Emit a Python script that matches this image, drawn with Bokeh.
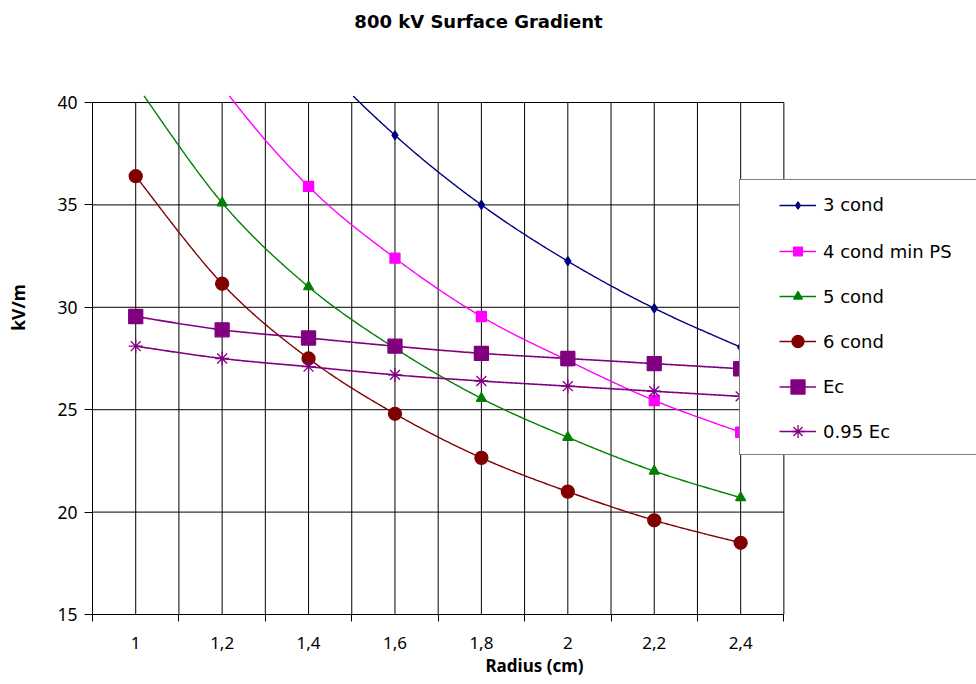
import math
from bokeh.plotting import figure
from bokeh.models import Range1d, FixedTicker, Legend, LegendItem, Label, BoxAnnotation
from bokeh.embed import file_html
from bokeh.resources import INLINE

# ---------------- data ----------------
title_text = "800 kV Surface Gradient"
x_title = "Radius (cm)"
y_title = "kV/m"
radius = [1.0, 1.2, 1.4, 1.6, 1.8, 2.0, 2.2, 2.4]
x_labels = ["1", "1,2", "1,4", "1,6", "1,8", "2", "2,2", "2,4"]
y_ticks = [15, 20, 25, 30, 35, 40]
series_names = ["3 cond", "4 cond min PS", "5 cond", "6 cond", "Ec", "0.95 Ec"]
cond3 = [54.5, 47.9, 42.6, 38.4, 35.0, 32.25, 29.95, 28.05]
cond4 = [47.3, 40.8, 35.9, 32.4, 29.55, 27.4, 25.45, 23.9]
cond5 = [40.9, 35.1, 31.0, 28.0, 25.55, 23.65, 22.0, 20.7]
cond6 = [36.4, 31.15, 27.5, 24.8, 22.65, 21.0, 19.6, 18.5]
ec = [29.55, 28.9, 28.5, 28.1, 27.75, 27.5, 27.25, 27.0]
ec95 = [28.1, 27.5, 27.1, 26.7, 26.4, 26.15, 25.9, 25.65]

# ---------------- styles ----------------
styles = [
    dict(color="#000080", marker="diamond", size=9, legend_size=7),
    dict(color="#FF00FF", marker="square", size=10, legend_size=9),
    dict(color="#008000", marker="triangle", size=10, legend_size=9),
    dict(color="#800000", marker="circle", size=13, legend_size=12),
    dict(color="#800080", marker="square", size=14, legend_size=14),
    dict(color="#800080", marker="asterisk", size=14, legend_size=13),
]
series = [cond3, cond4, cond5, cond6, ec, ec95]
overhang = 0.34  # curves run a few pixels above the plot area's top edge


def smooth(xs, ys, n=60):
    """Bezier (Catmull-Rom style) smoothing like a spreadsheet's smoothed line."""
    px, py = [], []
    m = len(xs)
    for i in range(m - 1):
        x0, y0 = (xs[i - 1], ys[i - 1]) if i > 0 else (xs[i], ys[i])
        x1, y1 = xs[i], ys[i]
        x2, y2 = xs[i + 1], ys[i + 1]
        x3, y3 = (xs[i + 2], ys[i + 2]) if i + 2 < m else (x2, y2)
        c1x, c1y = x1 + (x2 - x0) / 6, y1 + (y2 - y0) / 6
        c2x, c2y = x2 - (x3 - x1) / 6, y2 - (y3 - y1) / 6
        for k in range(n):
            t = k / n
            u = 1 - t
            px.append(u**3 * x1 + 3 * u * u * t * c1x + 3 * u * t * t * c2x + t**3 * x2)
            py.append(u**3 * y1 + 3 * u * u * t * c1y + 3 * u * t * t * c2y + t**3 * y2)
    px.append(xs[-1])
    py.append(ys[-1])
    return px, py


step = radius[1] - radius[0]
boundaries = [radius[0] - step / 2] + [(a + b) / 2 for a, b in zip(radius[:-1], radius[1:])] + [radius[-1] + step / 2]
clip_top = y_ticks[-1] + overhang

# frame spans to the canvas' right and top edges so the legend and title are not clipped
p = figure(
    width=976, height=684,
    x_range=Range1d(boundaries[0], 2.9458),
    y_range=Range1d(y_ticks[0], 44.98),
    output_backend="svg", toolbar_location=None, title=None,
    min_border_left=92, min_border_right=0, min_border_top=0, min_border_bottom=70,
)
p.outline_line_color = None
p.background_fill_color = "white"
p.border_fill_color = "white"

# gridlines bounded to the plot area
grid_x = sorted(radius + boundaries)
p.segment(x0=grid_x, y0=[y_ticks[0]] * len(grid_x), x1=grid_x, y1=[y_ticks[-1]] * len(grid_x),
          line_color="black", line_width=1, level="underlay")
p.segment(x0=[boundaries[0]] * len(y_ticks), y0=y_ticks, x1=[boundaries[-1]] * len(y_ticks), y1=y_ticks,
          line_color="black", line_width=1, level="underlay")
p.xgrid.visible = False
p.ygrid.visible = False

tick_font = "Noto Sans"
# x axis
xa = p.xaxis[0]
xa.ticker = FixedTicker(ticks=radius, minor_ticks=boundaries)
xa.bounds = (boundaries[0], boundaries[-1])
xa.major_label_overrides = {r: lab for r, lab in zip(radius, x_labels)}
xa.major_tick_out = 0
xa.major_tick_in = 0
xa.minor_tick_out = 7
xa.minor_tick_in = 0
xa.minor_tick_line_color = "black"
xa.axis_line_color = "black"
xa.major_label_text_font = tick_font
xa.major_label_text_font_size = "17px"
xa.major_label_text_color = "black"
xa.major_label_standoff = 15
xa.axis_label = x_title
xa.axis_label_text_font = tick_font
xa.axis_label_text_font_style = "bold"
xa.axis_label_text_font_size = "17px"
xa.axis_label_text_color = "black"
xa.axis_label_standoff = 2

# y axis
ya = p.yaxis[0]
ya.ticker = FixedTicker(ticks=y_ticks)
ya.bounds = (y_ticks[0], y_ticks[-1])
ya.major_tick_out = 8
ya.major_tick_in = 0
ya.minor_tick_out = 0
ya.minor_tick_in = 0
ya.minor_tick_line_color = None
ya.major_tick_line_color = "black"
ya.axis_line_color = "black"
ya.major_label_text_font = tick_font
ya.major_label_text_font_size = "17.5px"
ya.major_label_text_color = "black"
ya.major_label_standoff = 7
ya.axis_label = y_title
ya.axis_label_text_font = tick_font
ya.axis_label_text_font_style = "bold"
ya.axis_label_text_font_size = "17.5px"
ya.axis_label_text_color = "black"
ya.axis_label_standoff = 24

# series
items = []
for name, ys, st in zip(series_names, series, styles):
    sx, sy = smooth(radius, ys)
    sy = [v if v <= clip_top else math.nan for v in sy]
    lw = 1.6 if st["color"] == "#800080" else 1.4
    lr = p.line(sx, sy, line_color=st["color"], line_width=lw)
    mr = p.scatter(radius, ys, marker=st["marker"], size=st["size"],
                   fill_color=st["color"], line_color=st["color"], line_width=1.3)
    items.append(LegendItem(label=name, renderers=[lr, mr]))

# hide markers lying above the plot area
p.add_layout(BoxAnnotation(bottom=clip_top, top=60, fill_color="white", fill_alpha=1, line_alpha=0))

# legend frame (box)
ghost = p.line(radius, ec, line_alpha=0)
box = Legend(items=[LegendItem(label=" ", renderers=[ghost])],
             location=(647, 159), padding=0, margin=0, spacing=0,
             glyph_width=10, glyph_height=274, label_height=20, label_width=250,
             label_standoff=0, border_line_color="black", border_line_width=1,
             background_fill_color="white", background_fill_alpha=1)
p.add_layout(box)

# one legend entry per row so each legend marker keeps its own size
row_top = 408      # first row centre, px above the plot area's bottom
row_pitch = 45
for i, (item, st) in enumerate(zip(items, styles)):
    gh = int(round(st["legend_size"] / 0.4))
    leg = Legend(items=[item], location=(687, row_top - row_pitch * i - gh / 2),
                 padding=0, margin=0, spacing=0,
                 glyph_width=37, glyph_height=gh, label_height=gh, label_standoff=7,
                 border_line_alpha=0, background_fill_alpha=0,
                 label_text_font="DejaVu Sans", label_text_font_size="18px",
                 label_text_color="black")
    p.add_layout(leg)

# title
p.add_layout(Label(x=386, y=593, x_units="screen", y_units="screen", text=title_text,
                   text_align="center", text_baseline="alphabetic",
                   text_font="DejaVu Sans", text_font_style="bold",
                   text_font_size="18px", text_color="black"))

open("out.html", "w").write(file_html(p, INLINE))
